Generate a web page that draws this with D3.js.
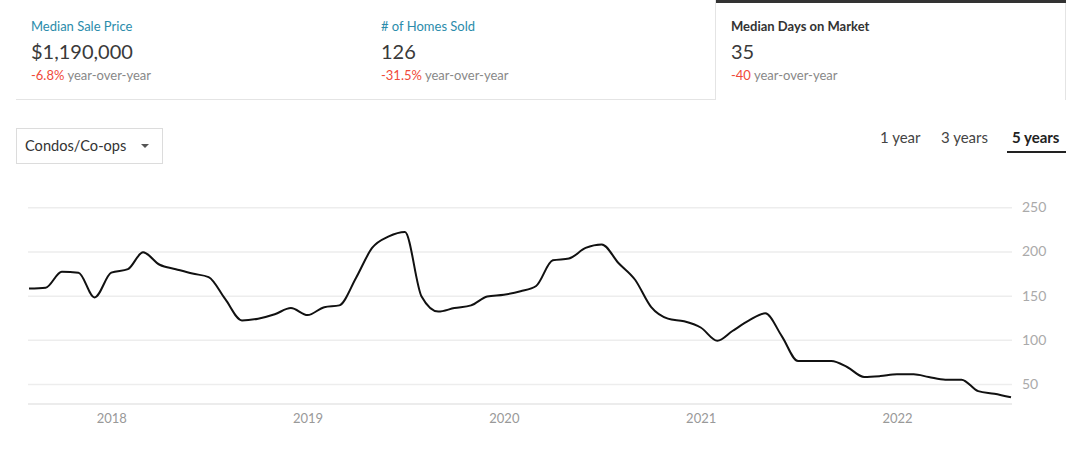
<!DOCTYPE html>
<html lang="en">
<head>
    <meta charset="UTF-8">
    <title>Median Days on Market</title>
    <style>
        body { margin: 0; background: #fff; font-family: Lato, "Open Sans", sans-serif; }
        svg text { font-family: Lato, "Open Sans", sans-serif; }
    </style>
</head>
<body>
    <div id="graph"></div>
    <script src="https://d3js.org/d3.v7.min.js"></script>
    <script>
        // Datos (mensual, ago 2017 - ago 2022)
        const START_MONTH = [2017, 7];
        const DAYS = [
            158, 159, 177, 176, 148, 176, 180, 199, 185, 180, 175, 171,
            146, 122, 124, 129, 136, 128, 137, 139, 170, 204, 217, 222,
            149, 132, 136, 139, 149, 151, 155, 161, 190, 192, 204, 208,
            187, 168, 137, 124, 121, 114, 99, 110, 122, 130, 104, 76,
            76, 76, 69, 58, 59, 61, 61, 58, 55, 55, 42, 39, 35
        ];
        const Y_TICKS = [50, 100, 150, 200, 250];
        const CARD_TITLES = ["Median Sale Price", "# of Homes Sold", "Median Days on Market"];
        const CARD_VALUES = ["$1,190,000", "126", "35"];
        const CARD_CHANGES = ["-6.8%", "-31.5%", "-40"];
        const RANGES = ["1 year", "3 years", "5 years"];

        const WIDTH = 1080;
        const HEIGHT = 449;

        const data = DAYS.map((v, i) => ({
            date: new Date(START_MONTH[0], START_MONTH[1] + i, 1),
            value: v
        }));

        const svg = d3.select("#graph")
            .append("svg")
            .attr("width", WIDTH)
            .attr("height", HEIGHT);

        // Tarjetas superiores
        const cardX = [16, 366, 716];
        svg.append("line")
            .attr("x1", 16).attr("x2", 716)
            .attr("y1", 99.5).attr("y2", 99.5)
            .attr("stroke", "#e4e4e4");
        svg.append("line")
            .attr("x1", 715.5).attr("x2", 715.5)
            .attr("y1", 0).attr("y2", 100)
            .attr("stroke", "#e4e4e4");
        svg.append("line")
            .attr("x1", 1065.5).attr("x2", 1065.5)
            .attr("y1", 0).attr("y2", 100)
            .attr("stroke", "#e4e4e4");
        svg.append("rect")
            .attr("x", 716).attr("y", 0)
            .attr("width", 350).attr("height", 3)
            .attr("fill", "#333");

        const card = svg.selectAll("g.card")
            .data(CARD_TITLES)
            .join("g")
            .attr("class", "card")
            .attr("transform", (d, i) => `translate(${cardX[i] + 15}, 0)`);

        card.append("text")
            .attr("y", 31)
            .attr("font-size", 13)
            .attr("font-weight", (d, i) => i === 2 ? 700 : 400)
            .attr("fill", (d, i) => i === 2 ? "#333" : "#2b8cab")
            .text(d => d);

        card.append("text")
            .attr("y", 59)
            .attr("font-size", 20)
            .attr("fill", "#3a3a3a")
            .text((d, i) => CARD_VALUES[i]);

        const change = card.append("text")
            .attr("y", 80)
            .attr("font-size", 13);
        change.append("tspan")
            .attr("fill", "#f04a3a")
            .text((d, i) => CARD_CHANGES[i]);
        change.append("tspan")
            .attr("fill", "#888")
            .text(" year-over-year");

        // Selector de tipo de propiedad
        svg.append("rect")
            .attr("x", 16.5).attr("y", 128.5)
            .attr("width", 146).attr("height", 35)
            .attr("fill", "#fff")
            .attr("stroke", "#dcdcdc");
        svg.append("text")
            .attr("x", 25).attr("y", 151)
            .attr("font-size", 14.6)
            .attr("fill", "#333")
            .text("Condos/Co-ops");
        svg.append("path")
            .attr("d", "M141,144 L149,144 L145,148 Z")
            .attr("fill", "#555");

        // Selector de rango
        const rangeX = [880, 941, 1012];
        svg.selectAll("text.range")
            .data(RANGES)
            .join("text")
            .attr("class", "range")
            .attr("x", (d, i) => rangeX[i])
            .attr("y", 143)
            .attr("font-size", 15)
            .attr("font-weight", (d, i) => i === 2 ? 700 : 400)
            .attr("fill", (d, i) => i === 2 ? "#222" : "#444")
            .text(d => d);
        svg.append("rect")
            .attr("x", 1007).attr("y", 151)
            .attr("width", 59).attr("height", 2)
            .attr("fill", "#222");

        // Escalas
        const xScale = d3.scaleTime()
            .domain(d3.extent(data, d => d.date))
            .range([29, 1011]);

        const yScale = d3.scaleLinear()
            .domain([28, 250])
            .range([403.5, 207.3]);

        // Eje Y a la derecha con líneas de cuadrícula
        const yAxis = svg.append("g")
            .attr("transform", "translate(1012, 0)")
            .call(d3.axisRight(yScale)
                .tickValues(Y_TICKS)
                .tickSize(-984)
                .tickPadding(10));
        yAxis.select(".domain").remove();
        yAxis.selectAll(".tick line")
            .attr("stroke", "#ededed")
            .attr("stroke-width", 1.5);
        yAxis.selectAll(".tick text")
            .attr("font-size", 14)
            .attr("fill", "#aaa");

        // Eje X
        const xAxis = svg.append("g")
            .attr("transform", "translate(0, 403.5)")
            .call(d3.axisBottom(xScale)
                .ticks(d3.timeYear.every(1))
                .tickFormat(d3.timeFormat("%Y"))
                .tickSize(0)
                .tickPadding(10));
        xAxis.select(".domain")
            .attr("d", "M28,0.5H1012")
            .attr("stroke", "#e6e6e6")
            .attr("stroke-width", 1.5);
        xAxis.selectAll(".tick text")
            .attr("font-size", 13)
            .attr("fill", "#999");

        // Línea de datos
        const line = d3.line()
            .x(d => xScale(d.date))
            .y(d => yScale(d.value))
            .curve(d3.curveMonotoneX);

        svg.append("path")
            .datum(data)
            .attr("fill", "none")
            .attr("stroke", "#111")
            .attr("stroke-width", 2)
            .attr("d", line);
    </script>
</body>
</html>
